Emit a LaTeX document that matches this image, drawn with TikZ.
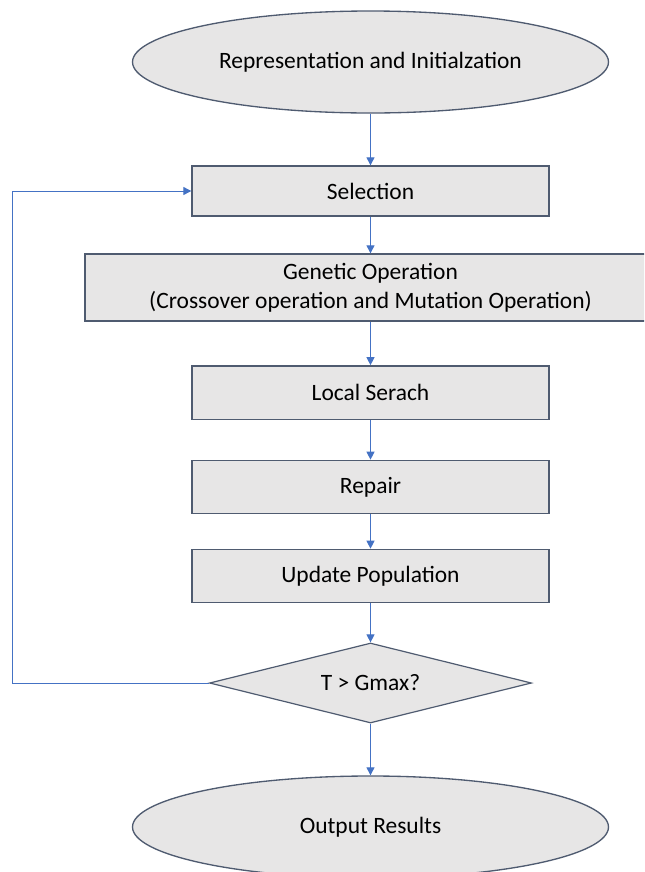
\documentclass[tikz,border=0pt]{standalone}
\usepackage{fontspec}
\setmainfont{Carlito}
\usepackage{tikz}
\usetikzlibrary{shapes.geometric,arrows.meta}

\definecolor{boxfill}{HTML}{E7E6E6}
\definecolor{boxline}{HTML}{4F5B70}
\definecolor{flowblue}{HTML}{4472C4}

\begin{document}
\begin{tikzpicture}[x = 0.75pt, y = -0.75pt,
                        font = \fontsize{17.6}{21.6}\selectfont,
                        terminal/.style = {ellipse, draw = boxline, fill = boxfill, line width = 1pt, inner sep = 0pt, minimum width = 357pt, minimum height = 76.5pt},
                        process/.style = {rectangle, draw = boxline, fill = boxfill, line width = 1pt, inner sep = 0pt, minimum width = 267.75pt, minimum height = 40pt, align = center},
                        decision/.style = {diamond, draw = boxline, fill = boxfill, line width = 0.9pt, inner sep = 0pt, aspect = 4, minimum width = 241.5pt, minimum height = 60pt},
                        flow/.style = {draw = flowblue, line width = 0.75pt, -{Triangle[width = 6pt, length = 6pt]}}]
    \clip (0, 0) rectangle (644, 872);
    \node [terminal] (init) at (370.5, 62){Representation and Initialzation};
    \node [process, minimum height = 37.5pt] (sel) at (370.5, 191){Selection};
    \node [process, minimum width = 428.25pt, minimum height = 50.25pt] (gen) at (370.5, 287.5){Genetic Operation\\(Crossover operation and Mutation Operation)};
    \node [process] (ls) at (370.5, 392.5){Local Serach};
    \node [process] (rep) at (370.5, 487){Repair};
    \node [process] (upd) at (370.5, 576){Update Population};
    \node [decision] (dec) at (370.5, 683){T > Gmax?};
    \node [terminal] (out) at (370.5, 827){Output Results};
    \coordinate (lb) at (12, 683);
    \coordinate (lt) at (12, 191);
    \draw [flow] (init)--(sel);
    \draw [flow] (sel)--(gen);
    \draw [flow] (gen)--(ls);
    \draw [flow] (ls)--(rep);
    \draw [flow] (rep)--(upd);
    \draw [flow] (upd)--(dec);
    \draw [flow] (dec)--(out);
    \draw [flow] (dec.west)--(lb)--(lt)--(sel.west);
  \end{tikzpicture}
\end{document}
